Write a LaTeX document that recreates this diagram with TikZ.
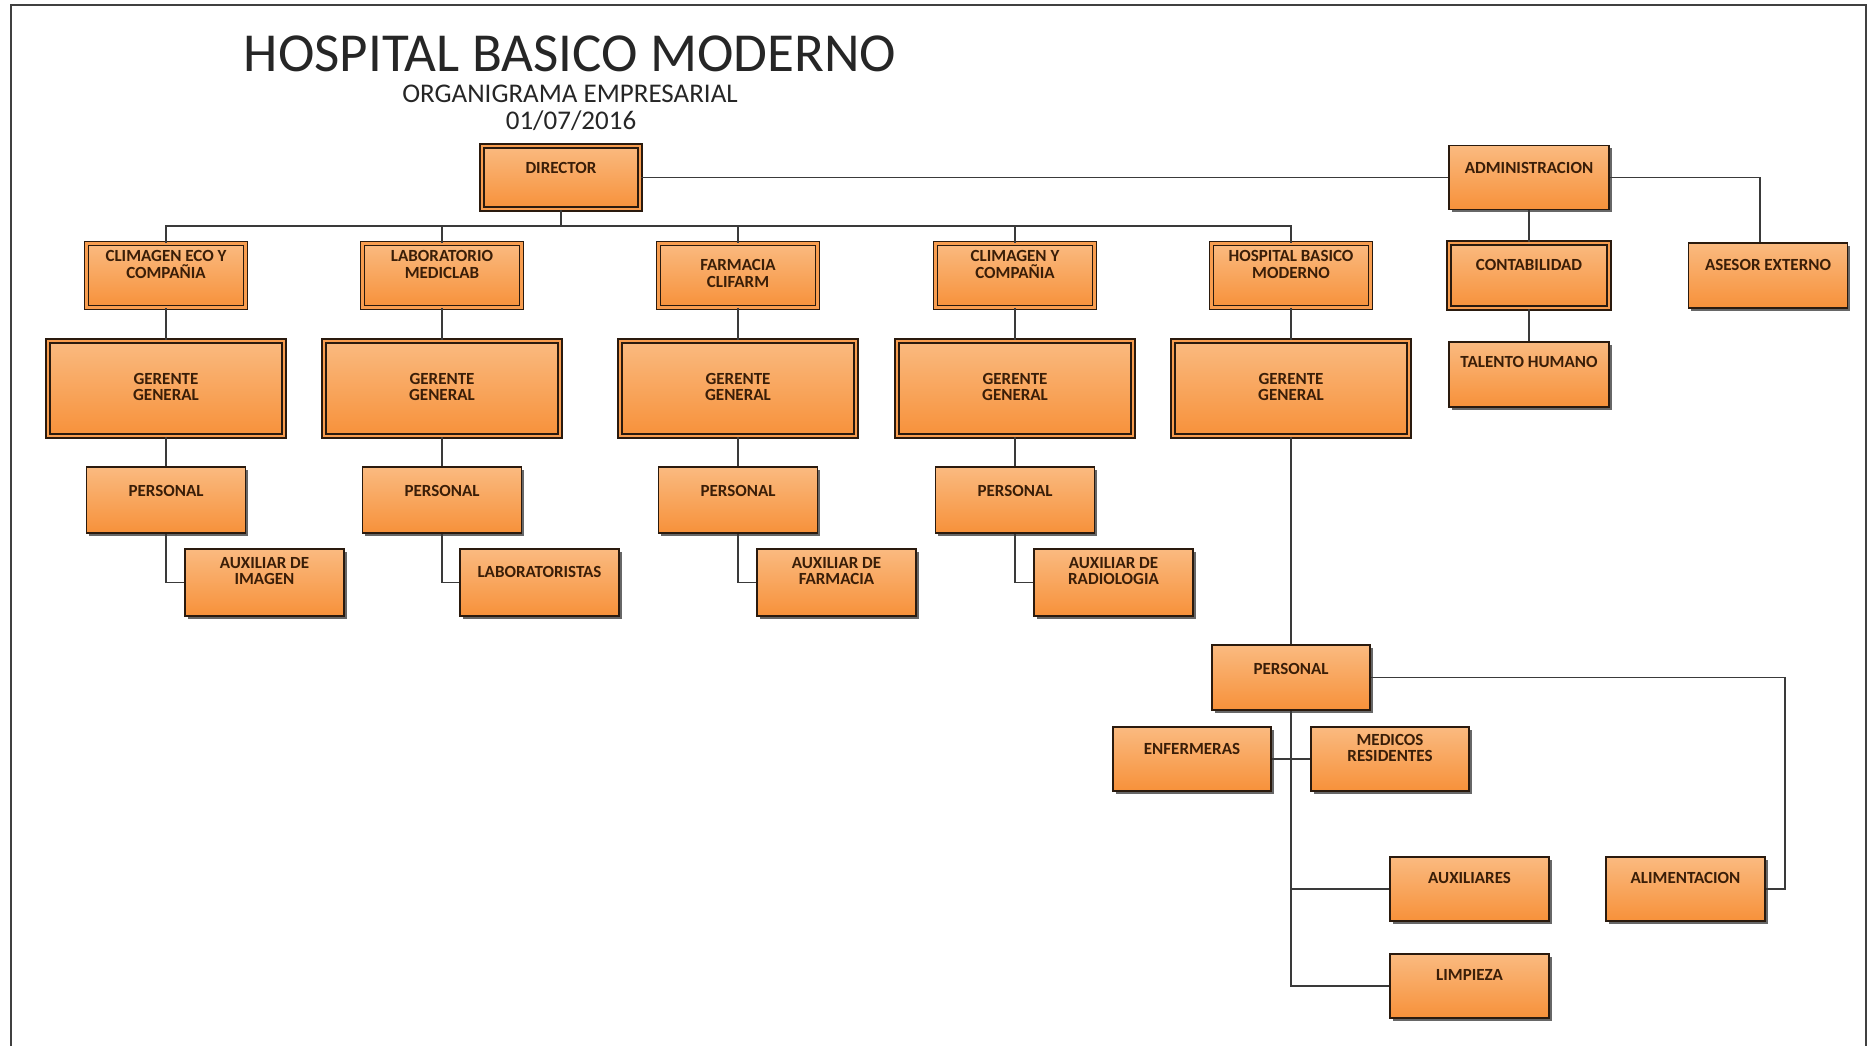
\documentclass[tikz,border=0pt]{standalone}
\usepackage{fontspec}
\setmainfont{Carlito}
\usetikzlibrary{shadows}
\definecolor{boxtop}{HTML}{FABA80}
\definecolor{boxbot}{HTML}{F7913A}
\definecolor{edgec}{HTML}{2A1A0E}
\definecolor{txtc}{HTML}{3A1E08}
\definecolor{wirec}{HTML}{3A3A3A}
\newcommand\boxfont{\fontsize{8.5}{8.3}\selectfont\bfseries}
\tikzset{
  obox/.style={rectangle, draw=edgec, line width=0.9pt, top color=boxtop, bottom color=boxbot,
    inner sep=0pt, drop shadow={shadow xshift=1.3pt, shadow yshift=-1.3pt, fill=black!70, opacity=0.85}},
  dbl/.style={double=boxbot!70!boxtop, double distance=1.3pt, line width=0.8pt},
  lbl/.style={anchor=north, inner sep=0pt, align=center, font=\boxfont, text=txtc},
  wire/.style={draw=wirec, line width=0.9pt},
  frame/.style={draw=black!75, line width=1pt},
}
% #1 extra style, #2 name, #3 cx, #4 cy, #5 w, #6 h, #7 text top offset (px), #8 text
\newcommand\obox[8]{\node[obox,#1,minimum width=#5*0.5pt,minimum height=#6*0.5pt,
  label={[lbl,yshift=-#7*0.5pt]north:{#8}}] (#2) at (#3,#4) {};}
\begin{document}
\begin{tikzpicture}[x=0.5pt,y=-0.5pt]
\useasboundingbox (0,0) rectangle (1874,1046);
\draw[frame] (11,1046) -- (11,5) -- (1866,5) -- (1866,1046);
% titles
\node[font=\fontsize{27.5}{30}\selectfont, text=black!85] (title) at (570,54) {HOSPITAL BASICO MODERNO};
\node[font=\fontsize{13.5}{15}\selectfont, text=black!85] (sub) at (570,94) {ORGANIGRAMA EMPRESARIAL};
\node[font=\fontsize{13.5}{15}\selectfont, text=black!85] (date) at (571,121) {01/07/2016};
% top
\obox{dbl}{dir}{561}{177.5}{158}{63}{17}{DIRECTOR}
\obox{}{adm}{1529}{177.5}{160}{64}{17}{ADMINISTRACION}
\obox{dbl}{con}{1529}{275.5}{160}{65}{16.5}{CONTABILIDAD}
\obox{}{tal}{1529}{374.5}{160}{65}{14.5}{TALENTO HUMANO}
\obox{}{ase}{1768}{275.5}{159}{65}{16.5}{ASESOR EXTERNO}
% level 2
\obox{dbl}{la}{166}{275.5}{159}{64}{7.5}{CLIMAGEN ECO Y\\COMPAÑIA}
\obox{dbl}{lb}{442}{275.5}{159}{64}{7.5}{LABORATORIO\\MEDICLAB}
\obox{dbl}{lc}{738}{275.5}{159}{64}{16.5}{FARMACIA\\CLIFARM}
\obox{dbl}{ld}{1015}{275.5}{159}{64}{7.5}{CLIMAGEN Y\\COMPAÑIA}
\obox{dbl}{le}{1291}{275.5}{159}{64}{7.5}{HOSPITAL BASICO\\MODERNO}
% gerentes
\obox{dbl}{ga}{166}{388.5}{236}{95}{32.5}{GERENTE\\GENERAL}
\obox{dbl}{gb}{442}{388.5}{236}{95}{32.5}{GERENTE\\GENERAL}
\obox{dbl}{gc}{738}{388.5}{236}{95}{32.5}{GERENTE\\GENERAL}
\obox{dbl}{gd}{1015}{388.5}{236}{95}{32.5}{GERENTE\\GENERAL}
\obox{dbl}{ge}{1291}{388.5}{236}{95}{32.5}{GERENTE\\GENERAL}
% personal
\obox{}{pa}{166}{500}{159}{66}{18.5}{PERSONAL}
\obox{}{pb}{442}{500}{159}{66}{18.5}{PERSONAL}
\obox{}{pc}{738}{500}{159}{66}{18.5}{PERSONAL}
\obox{}{pd}{1015}{500}{159}{66}{18.5}{PERSONAL}
% level 5
\obox{}{xa}{264.5}{582.5}{159}{67}{8.5}{AUXILIAR DE\\IMAGEN}
\obox{}{xb}{539.5}{582.5}{159}{67}{18}{LABORATORISTAS}
\obox{}{xc}{836.5}{582.5}{159}{67}{8.5}{AUXILIAR DE\\FARMACIA}
\obox{}{xd}{1113.5}{582.5}{159}{67}{8.5}{AUXILIAR DE\\RADIOLOGIA}
% hospital branch
\obox{}{ph}{1291}{677.5}{158}{65}{18.5}{PERSONAL}
\obox{}{enf}{1192}{759}{158}{64}{16.5}{ENFERMERAS}
\obox{}{med}{1390}{759}{158}{64}{7.5}{MEDICOS\\RESIDENTES}
\obox{}{aux}{1469.5}{889}{159}{64}{16}{AUXILIARES}
\obox{}{ali}{1685.5}{889}{159}{64}{16}{ALIMENTACION}
\obox{}{lim}{1469.5}{986}{159}{64}{15.5}{LIMPIEZA}
% connectors
\coordinate (bus) at (561,226);
\draw[wire] (dir.south) -- (bus) -| (la.north);
\draw[wire] (bus) -| (lb.north);
\draw[wire] (bus) -| (lc.north);
\draw[wire] (bus) -| (ld.north);
\draw[wire] (bus) -| (le.north);
\draw[wire] (dir.east) -- (adm.west);
\draw[wire] (adm.east) -| ([xshift=-4pt]ase.north);
\draw[wire] (adm.south) -- (con.north);
\draw[wire] (con.south) -- (tal.north);
\foreach \s in {a,b,c,d,e}{\draw[wire] (l\s.south) -- (g\s.north);}
\foreach \s in {a,b,c,d}{\draw[wire] (g\s.south) -- (p\s.north); \draw[wire] (p\s.south) |- (x\s.west);}
\draw[wire] (ge.south) -- (ph.north);
\coordinate (rc) at (1785,677.5);
\draw[wire] (ph.east) -- (rc) |- (ali.east);
\draw[wire] (ph.south) |- (lim.west);
\draw[wire] (ph.south) |- (aux.west);
\draw[wire] (enf.east) -- (med.west);
\end{tikzpicture}
\end{document}
